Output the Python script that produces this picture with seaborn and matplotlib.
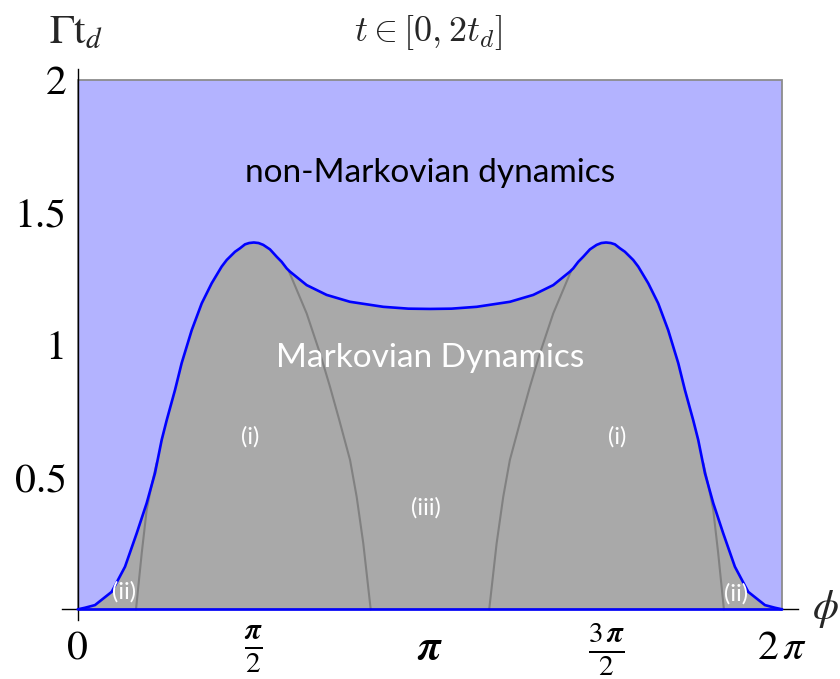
import matplotlib
matplotlib.use("Agg")
import matplotlib.pyplot as plt
import numpy as np
import seaborn as sns
from matplotlib.patches import Rectangle

# phase range and rate range of the diagram
PHI_MAX = 2 * np.pi
RATE_MAX = 2.0

# blue boundary between Markovian / non-Markovian
boundary_phi = [
    0.000, 0.065, 0.154, 0.303, 0.422, 0.526, 0.615, 0.689, 0.749, 0.794,
    0.868, 0.927, 1.017, 1.106, 1.195, 1.284, 1.329, 1.403, 1.447, 1.492,
    1.529, 1.571, 1.613, 1.655, 1.715, 1.775, 1.819, 1.864, 1.893, 2.042,
    2.220, 2.428, 2.725, 2.950, 3.142, 3.333, 3.558, 3.855, 4.063, 4.241,
    4.390, 4.419, 4.464, 4.508, 4.568, 4.628, 4.670, 4.712, 4.754, 4.791,
    4.836, 4.880, 4.954, 4.999, 5.088, 5.177, 5.266, 5.356, 5.415, 5.489,
    5.534, 5.594, 5.668, 5.757, 5.861, 5.980, 6.129, 6.218, 6.283,
]
boundary_rate = [
    0.000, 0.006, 0.016, 0.066, 0.161, 0.287, 0.401, 0.514, 0.640, 0.715,
    0.829, 0.930, 1.055, 1.156, 1.232, 1.295, 1.320, 1.351, 1.364, 1.379,
    1.384, 1.386, 1.384, 1.377, 1.360, 1.332, 1.313, 1.288, 1.276, 1.225,
    1.188, 1.162, 1.143, 1.136, 1.135, 1.136, 1.143, 1.162, 1.188, 1.225,
    1.276, 1.288, 1.313, 1.332, 1.360, 1.377, 1.384, 1.386, 1.384, 1.379,
    1.364, 1.351, 1.320, 1.295, 1.232, 1.156, 1.055, 0.930, 0.829, 0.715,
    0.640, 0.514, 0.401, 0.287, 0.161, 0.066, 0.016, 0.006, 0.000,
]

# grey lines separating regions (i) and (iii)
left_split_phi = [1.880, 2.042, 2.161, 2.250, 2.333, 2.429, 2.488, 2.547, 2.613]
left_split_rate = [1.281, 1.118, 0.967, 0.841, 0.715, 0.564, 0.425, 0.249, 0.000]
right_split_phi = [4.403, 4.241, 4.122, 4.033, 3.950, 3.854, 3.795, 3.736, 3.670]
right_split_rate = [1.281, 1.118, 0.967, 0.841, 0.715, 0.564, 0.425, 0.249, 0.000]

# grey lines cutting off region (ii)
left_ii_phi = [0.520, 0.571, 0.615, 0.660, 0.704]
left_ii_rate = [0.000, 0.212, 0.375, 0.470, 0.553]
right_ii_phi = [5.763, 5.712, 5.668, 5.623, 5.579]
right_ii_rate = [0.000, 0.212, 0.375, 0.470, 0.553]

x_ticks = [0, np.pi / 2, np.pi, 3 * np.pi / 2, 2 * np.pi]
x_tick_labels = [
    "0",
    r"$\frac{\boldsymbol{\pi}}{2}$",
    r"$\boldsymbol{\pi}$",
    r"$\frac{3\,\boldsymbol{\pi}}{2}$",
    r"$2\,\pi$",
]
y_ticks = [0.5, 1, 1.5, 2]
y_tick_labels = ["0.5", "1", "1.5", "2"]

region_labels = ["(i)", "(i)", "(iii)", "(ii)", "(ii)"]
region_phi = [1.536, 4.812, 3.103, 0.413, 5.870]
region_rate = [0.652, 0.652, 0.382, 0.067, 0.060]

BLUE_FILL = "#b3b3ff"
GREY_FILL = "#a9a9a9"
SPLIT_GREY = "#818181"
LINE_BLUE = "#0000ff"


def main() -> None:
    sns.set_style("white")
    plt.rcParams["font.family"] = ["STIXGeneral", "DejaVu Sans"]
    plt.rcParams["mathtext.fontset"] = "stix"

    fig = plt.figure(figsize=(8.4, 6.79), dpi=100)
    ax = fig.add_axes([0.0738, 0.0870, 0.8757, 0.8108])
    ax.set_xlim(-0.14, 6.42)
    ax.set_ylim(-0.04, 2.04)

    ax.add_patch(
        Rectangle((0, 0), PHI_MAX, RATE_MAX, facecolor=BLUE_FILL,
                  edgecolor="#8c8c8c", linewidth=1.3, zorder=0.5)
    )
    ax.fill_between(boundary_phi, 0, boundary_rate, color=GREY_FILL,
                    linewidth=0, zorder=1)

    for xs, ys in [(left_split_phi, left_split_rate), (right_split_phi, right_split_rate),
                   (left_ii_phi, left_ii_rate), (right_ii_phi, right_ii_rate)]:
        sns.lineplot(x=xs, y=ys, sort=False, estimator=None, color=SPLIT_GREY,
                     linewidth=1.5, ax=ax, zorder=2)

    sns.lineplot(x=boundary_phi, y=boundary_rate, sort=False, estimator=None,
                 color=LINE_BLUE, linewidth=1.9, ax=ax, zorder=3)
    ax.hlines(0, boundary_phi[0], boundary_phi[-1], color=LINE_BLUE,
              linewidth=1.9, zorder=3)

    # axes crossing at the origin, Mathematica style
    for side in ["top", "right"]:
        ax.spines[side].set_visible(False)
    ax.spines["left"].set_position(("data", 0))
    ax.spines["bottom"].set_position(("data", 0))
    for side in ["left", "bottom"]:
        ax.spines[side].set_color("black")
        ax.spines[side].set_linewidth(1.0)

    ax.set_xticks(x_ticks, x_tick_labels)
    ax.set_yticks(y_ticks, y_tick_labels)
    ax.tick_params(direction="in", length=6, width=1, color="black",
                   labelsize=30, labelcolor="black")
    ax.tick_params(axis="y", pad=8)
    ax.tick_params(axis="x", pad=29)
    for lbl in ax.get_xticklabels():
        lbl.set_va("center")

    ax.text(np.pi, 1.65, "non-Markovian dynamics", family="Lato", fontsize=24,
            color="black", ha="center", va="center", zorder=4)
    ax.text(np.pi, 0.95, "Markovian Dynamics", family="Lato", fontsize=24,
            color="white", ha="center", va="center", zorder=4)
    for label, px, py in zip(region_labels, region_phi, region_rate):
        ax.text(px, py, label, family="Lato", fontsize=17, color="white",
                ha="center", va="center", zorder=4)

    fig.text(49 / 840, 1 - 43 / 679, r"$\Gamma\mathrm{t}_d$", fontsize=30,
             ha="left", va="baseline")
    fig.text(812 / 840, 1 - 609 / 679, r"$\phi$", fontsize=30,
             ha="left", va="center")
    fig.text(428 / 840, 1 - 32 / 679, r"$t \in [0, 2t_d]$", fontsize=26,
             math_fontfamily="cm", ha="center", va="center")

    fig.savefig("out.png", dpi=100)


if __name__ == "__main__":
    main()
